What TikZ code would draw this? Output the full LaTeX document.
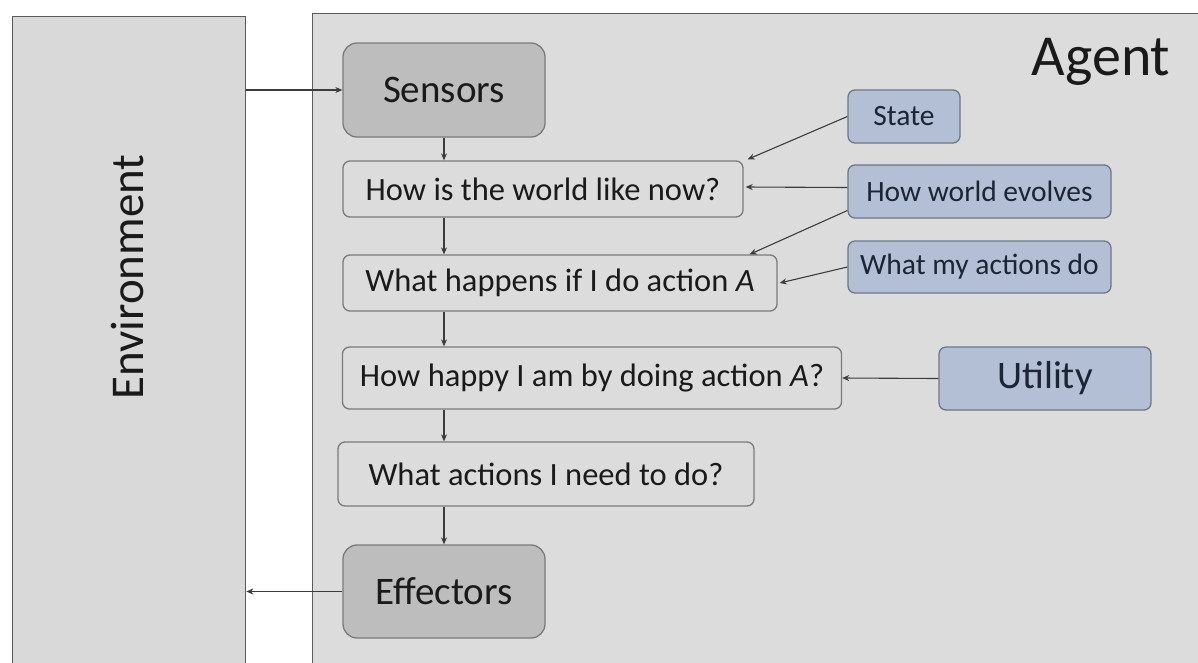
\documentclass[tikz,border=0pt]{standalone}
\usepackage{fontspec}
\setmainfont{Carlito}
\usetikzlibrary{arrows.meta,calc}
\definecolor{panelbg}{HTML}{DCDCDC}
\definecolor{envbg}{HTML}{D9D9D9}
\definecolor{panelline}{HTML}{5A5A5A}
\definecolor{boxline}{HTML}{7A7A7A}
\definecolor{iobg}{HTML}{BDBDBD}
\definecolor{knowbg}{HTML}{B3BFD4}
\definecolor{knowline}{HTML}{6B778A}
\definecolor{knowtext}{HTML}{1C2536}
\definecolor{ink}{HTML}{1A1A1A}
\definecolor{wire}{HTML}{3C3C3C}
\begin{document}
\begin{tikzpicture}[x=1pt,y=-1pt,
  panel/.style={draw=panelline, line width=1.3pt, inner sep=0pt},
  stepbox/.style={draw=boxline, fill=panelbg, rounded corners=7pt, line width=1.3pt,
    inner sep=0pt, text=ink, font=\fontsize{32.5}{38}\selectfont},
  iobox/.style={draw=boxline, fill=iobg, rounded corners=14pt, line width=1.3pt,
    inner sep=0pt, text=ink, font=\fontsize{39}{44}\selectfont},
  knowbox/.style={draw=knowline, fill=knowbg, rounded corners=7pt, line width=1.3pt,
    inner sep=0pt, text=knowtext, font=\fontsize{29.5}{34}\selectfont},
  arr/.style={draw=wire, line width=1.1pt, -{Stealth[length=7pt,width=6pt]}}]
\clip (0,0) rectangle (1198,662);
\fill[white] (0,0) rectangle (1198,662);

% environment and agent panels
\node[panel, fill=envbg, minimum width=233pt, minimum height=700pt, anchor=north west] (env) at (12,16) {};
\node[panel, fill=panelbg, minimum width=900pt, minimum height=700pt, anchor=north west] (agent) at (312,13) {};
\node[text=ink, font=\fontsize{47}{52}\selectfont, rotate=90] (envlabel) at (128,277) {Environment};
\node[text=ink, font=\fontsize{58}{64}\selectfont] (agentlabel) at (1101,62) {Agent};

% processing chain
\node[iobox, minimum width=202pt, minimum height=94pt] (sensors) at (444,90) {Sensors};
\node[stepbox, minimum width=400pt, minimum height=56pt] (world) at (543,189) {How is the world like now?};
\node[stepbox, minimum width=434pt, minimum height=56pt] (happen) at (560,283) {What happens if I do action \textit{A}};
\node[stepbox, minimum width=499pt, minimum height=62pt] (happy) at (592,378) {How happy I am by doing action \textit{A}?};
\node[stepbox, minimum width=416pt, minimum height=64pt] (need) at (546,474) {What actions I need to do?};
\node[iobox, minimum width=202pt, minimum height=93pt] (effectors) at (444,591.5) {Effectors};

% knowledge sources
\node[knowbox, minimum width=112pt, minimum height=53pt] (state) at (904,116.5) {State};
\node[knowbox, minimum width=263pt, minimum height=53pt] (evolves) at (979.5,191.5) {How world evolves};
\node[knowbox, minimum width=263pt, minimum height=52pt] (actions) at (979.5,267) {What my actions do};
\node[knowbox, minimum width=212pt, minimum height=63pt, font=\fontsize{39}{44}\selectfont] (utility) at (1045,378.5) {Utility};

% percepts in, actions out
\draw[arr] (env.east |- sensors.west) -- (sensors.west);
\draw[arr] (effectors.west) -- (effectors.west -| env.east);

% main flow
\draw[arr] (sensors.south) -- (sensors.south |- world.north);
\draw[arr] (world.south -| sensors.south) -- (sensors.south |- happen.north);
\draw[arr] (happen.south -| sensors.south) -- (sensors.south |- happy.north);
\draw[arr] (happy.south -| sensors.south) -- (sensors.south |- need.north);
\draw[arr] (need.south -| sensors.south) -- (effectors.north);

% knowledge inputs
\draw[arr] (state.west) -- ($(world.north east)+(4,-1)$);
\draw[arr] ($(evolves.west)+(0,-4)$) -- ($(world.east)+(2,-2)$);
\draw[arr] ($(evolves.west)+(0,19)$) -- ($(happen.north east)+(-28,0)$);
\draw[arr] (actions.west) -- ($(happen.east)+(2,0)$);
\draw[arr] (utility.west) -- (happy.east);
\end{tikzpicture}
\end{document}
